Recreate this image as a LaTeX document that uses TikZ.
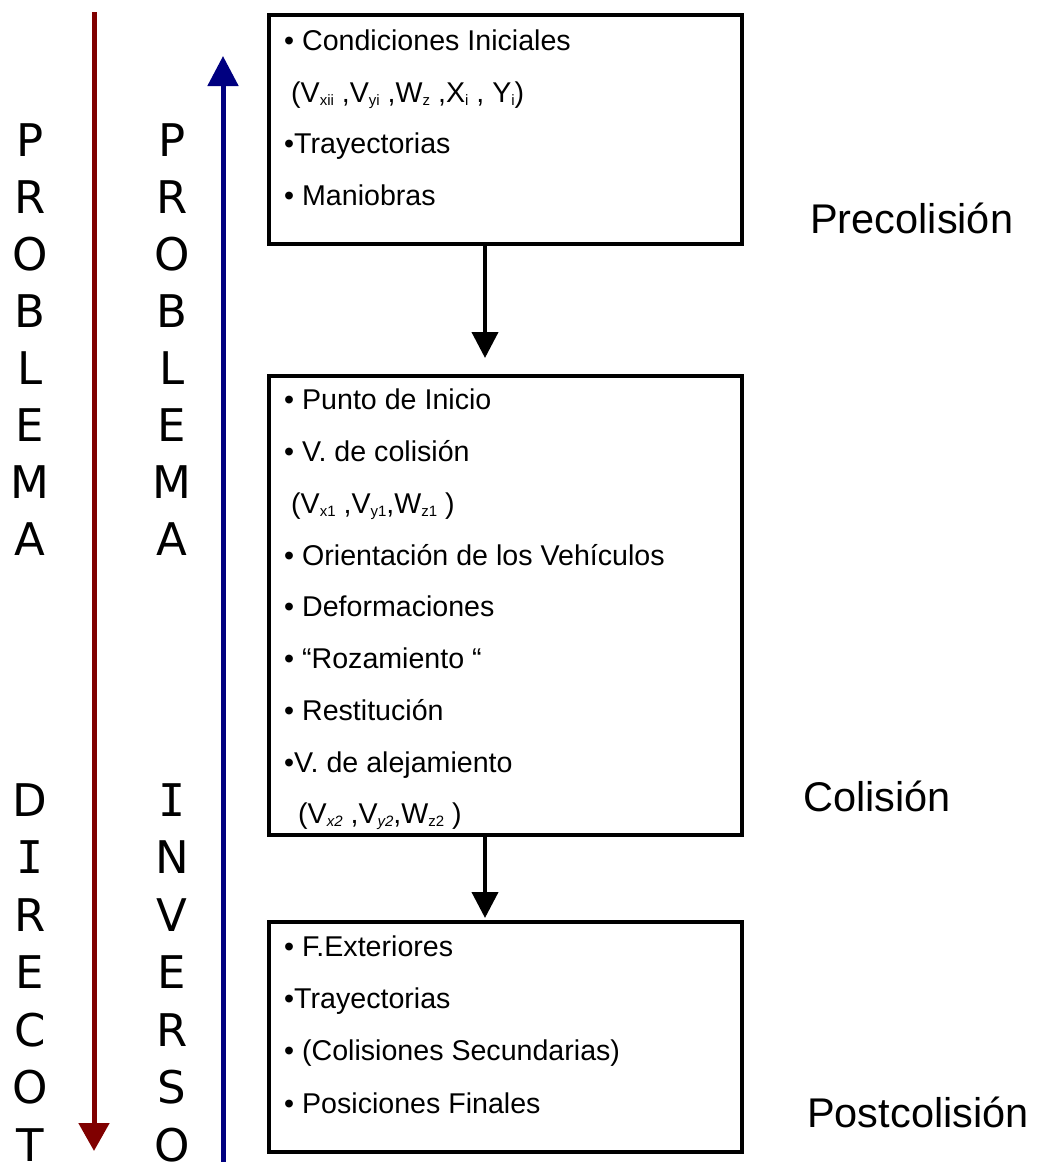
\documentclass[tikz,border=0pt]{standalone}
\usepackage{fontspec}
\setmainfont{Liberation Sans}
\newfontfamily\monofam{DejaVu Sans Mono}
\newfontfamily\dvsans{DejaVu Sans}
\usetikzlibrary{arrows.meta}
\definecolor{darkred}{HTML}{800000}
\definecolor{darkblue}{HTML}{000080}
\newcommand{\subx}[1]{\raisebox{-3pt}{\fontsize{15}{15}\selectfont #1}}
\newcommand{\serifI}{{\monofam I}}
\tikzset{
  boxst/.style={draw, line width=4pt, inner sep=0pt, anchor=north west},
  itemst/.style={anchor=base west, inner sep=0pt, font=\fontsize{28.6}{28.6}\selectfont},
  stagest/.style={anchor=base west, inner sep=0pt, font=\fontsize{41.5}{41.5}\selectfont},
  letterst/.style={anchor=base, inner sep=0pt, font=\dvsans\fontsize{45}{45}\selectfont},
  flowarr/.style={line width=4pt, -{Triangle[width=26pt,length=26pt]}},
}
\begin{document}
\begin{tikzpicture}[x=1pt,y=-1pt]
\useasboundingbox (0,0) rectangle (1040,1162);
\clip (0,0) rectangle (1040,1162);
\fill[white] (0,0) rectangle (1040,1162);
% letter columns
\foreach \l [count=\i] in {P,R,O,B,L,E,M,A} {
  \node[letterst] (pa\i) at (30,{140+57*(\i-1)+16}) {\l};
  \node[letterst] (pb\i) at (172,{140+57*(\i-1)+16}) {\l};
}
\foreach \l [count=\i] in {D,\serifI,R,E,C,O,T} {
  \node[letterst] (da\i) at (30,{800+57.5*(\i-1)+16}) {\l};
}
\foreach \l [count=\i] in {\serifI,N,V,E,R,S,O} {
  \node[letterst] (ib\i) at (172,{800+57.5*(\i-1)+16}) {\l};
}
% vertical arrows
\coordinate (rtop) at (94,12);
\coordinate (rbot) at (94,1151);
\coordinate (btop) at (223,56);
\coordinate (bbot) at (223,1170);
\draw[darkred, line width=5pt, -{Triangle[width=30pt,length=28pt]}] (rtop) -- (rbot);
\draw[darkblue, line width=5pt, -{Triangle[width=30pt,length=30pt]}] (bbot) -- (btop);
% boxes
\node[boxst, minimum width=473pt, minimum height=229pt] (b1) at (267,13) {};
\node[boxst, minimum width=473pt, minimum height=459pt] (b2) at (267,374) {};
\node[boxst, minimum width=473pt, minimum height=230pt] (b3) at (267,920) {};
\draw[flowarr] ([xshift=-20.5pt]b1.south) -- ([xshift=-20.5pt,yshift=16pt]b2.north);
\draw[flowarr] ([xshift=-20.5pt]b2.south) -- ([xshift=-20.5pt,yshift=2pt]b3.north);
% box 1
\node[itemst] (t1) at (284,50) {• Condiciones Iniciales};
\node[itemst] (t2) at (291,102) {(V\subx{xii} ,V\subx{yi} ,W\subx{z} ,X\subx{i} , Y\subx{i})};
\node[itemst] (t3) at (284,153) {•Trayectorias};
\node[itemst] (t4) at (284,205) {• Maniobras};
% box 2
\node[itemst] (t5) at (284,409) {• Punto de Inicio};
\node[itemst] (t6) at (284,461) {• V. de colisión};
\node[itemst] (t7) at (291,513) {(V\subx{x1} ,V\subx{y1},W\subx{z1} )};
\node[itemst] (t8) at (284,565) {• Orientación de los Vehículos};
\node[itemst] (t9) at (284,616) {• Deformaciones};
\node[itemst] (t10) at (284,668) {• “Rozamiento “};
\node[itemst] (t11) at (284,720) {• Restitución};
\node[itemst] (t12) at (284,772) {•V. de alejamiento};
\node[itemst] (t13) at (298,823) {(V\subx{\itshape x2} ,V\subx{\itshape y2},W\subx{z2} )};
% box 3
\node[itemst] (t14) at (284,956) {• F.Exteriores};
\node[itemst] (t15) at (284,1008) {•Trayectorias};
\node[itemst] (t16) at (284,1060) {• (Colisiones Secundarias)};
\node[itemst] (t17) at (284,1113) {• Posiciones Finales};
% stage labels
\node[stagest] (s1) at (810,233) {Precolisión};
\node[stagest] (s2) at (803,811) {Colisión};
\node[stagest] (s3) at (807,1127) {Postcolisión};
\end{tikzpicture}
\end{document}
